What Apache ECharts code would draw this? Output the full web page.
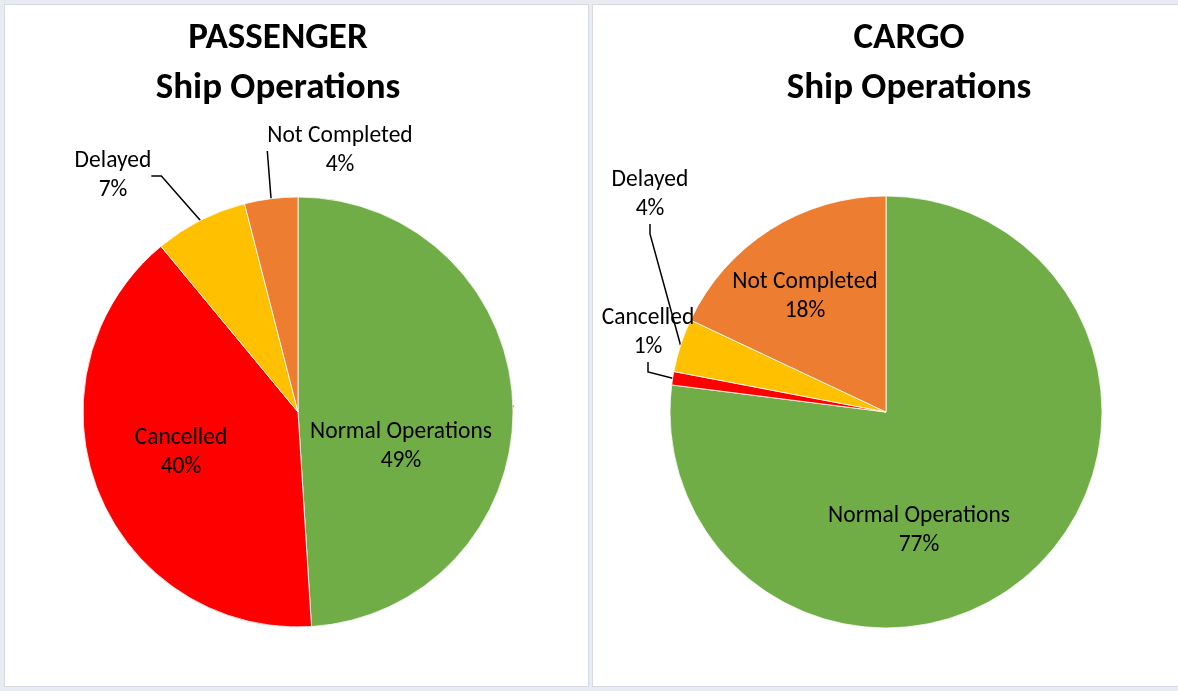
<!DOCTYPE html>
<html>
<head>
<meta charset="utf-8">
<script src="https://cdn.jsdelivr.net/npm/echarts@6/dist/echarts.min.js"></script>
<style>
  html, body { margin: 0; padding: 0; background: #e8ecf2; }
  .panel {
    position: absolute; top: 4px; height: 683px;
    background: #fff; border: 1px solid #d6dae1; box-sizing: border-box;
  }
  #left { left: 4px; width: 585px; }
  #right { left: 592px; width: 590px; }
</style>
</head>
<body>
<div id="left" class="panel"></div>
<div id="right" class="panel"></div>
<script>
// categories, clockwise from 12 o'clock
const categories = ['Normal Operations', 'Cancelled', 'Delayed', 'Not Completed'];
const colors = ['#70ad47', '#ff0000', '#ffc000', '#ed7d31'];

const passengerValues = [49, 40, 7, 4];
const cargoValues = [77, 1, 4, 18];

// where Excel put each label (centre of the text block, panel px)
const passengerLabelPos = [[396, 442], [176, 448], [108, 171], [335, 146]];
const cargoLabelPos = [[326, 526], [55, 328], [57, 190], [212, 292]];

const FONT = 'Carlito, "Liberation Sans", Arial, sans-serif';

function makeOption(title, titleX, values, labelPos, radius) {
  return {
    animation: false,
    title: {
      text: title,
      left: titleX,
      top: 4,
      textAlign: 'center',
      textStyle: {
        fontFamily: FONT, fontSize: 37, fontWeight: 'bold',
        color: '#000', lineHeight: 50
      }
    },
    series: [{
      type: 'pie',
      center: [293, 407],
      radius: radius,
      startAngle: 90,
      clockwise: true,
      avoidLabelOverlap: false,
      itemStyle: { borderColor: '#fff', borderWidth: 0.8 },
      label: {
        show: true,
        fontFamily: FONT,
        fontSize: 23.5,
        lineHeight: 29,
        color: '#000',
        align: 'center',
        formatter: p => p.name + '\n' + Math.round(p.percent) + '%'
      },
      labelLine: {
        show: true,
        length: 10,
        length2: 10,
        lineStyle: { color: '#000', width: 1.5 }
      },
      labelLayout: p => ({
        x: labelPos[p.dataIndex][0],
        y: labelPos[p.dataIndex][1],
        align: 'center',
        verticalAlign: 'middle'
      }),
      data: categories.map((c, i) => ({
        name: c,
        value: values[i],
        itemStyle: { color: colors[i] }
      }))
    }]
  };
}

const leftChart = echarts.init(document.getElementById('left'));
leftChart.setOption(makeOption('PASSENGER\nShip Operations', 268, passengerValues, passengerLabelPos, 215));

const rightChart = echarts.init(document.getElementById('right'));
rightChart.setOption(makeOption('CARGO\nShip Operations', 311, cargoValues, cargoLabelPos, 216));
</script>
</body>
</html>
